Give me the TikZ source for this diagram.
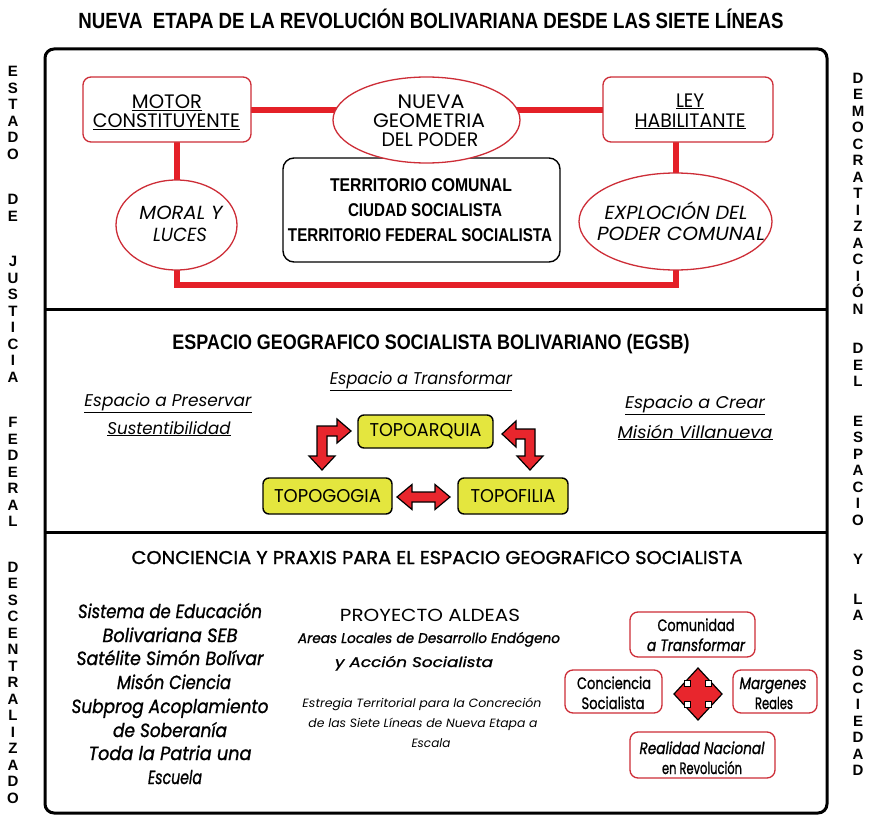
\documentclass[tikz,border=0pt]{standalone}
\usepackage{fontspec}
\usepackage{graphicx}
\setmainfont{Poppins}
\newfontfamily\lib{Liberation Sans}
\newfontfamily\popmed{Poppins}[FakeBold=1.2]
\usetikzlibrary{shapes.geometric}
\pgfdeclarelayer{bg}
\pgfsetlayers{bg,main}
\newcommand\wf[2]{\resizebox{#1pt}{\height}{#2}}
\definecolor{cred}{RGB}{228,32,40}
\definecolor{bred}{RGB}{205,45,55}
\definecolor{cyel}{RGB}{228,230,62}
\definecolor{ared}{RGB}{232,38,45}
\begin{document}
\begin{tikzpicture}[x=1pt,y=-1pt,
  conn/.style={line width=6pt, cred},
  rbox/.style={draw=bred, line width=1.3pt, rounded corners=8pt, fill=white, inner sep=0pt},
  rell/.style={ellipse, draw=bred, line width=1.3pt, fill=white, inner sep=0pt},
  kbox/.style={draw=black, line width=1.4pt, rounded corners=11pt, fill=white, inner sep=0pt},
  ybox/.style={draw=black, line width=1.4pt, fill=cyel, rounded corners=6pt, inner sep=0pt},
  tl/.style={inner sep=0pt, anchor=base},
  frm/.style={line width=3pt, black},
  bigarrow/.style={fill=ared, draw=black, line width=1.2pt, line join=miter},
  ftop/.style={font=\fontsize{19.5}{21}\selectfont},
  fbc/.style={font=\lib\bfseries\fontsize{18.5}{20}\selectfont},
  fit/.style={font=\itshape\fontsize{19}{21}\selectfont},
  mhead/.style={font=\lib\bfseries\fontsize{21}{23}\selectfont},
  mital/.style={font=\itshape\fontsize{17}{19}\selectfont},
  ybt/.style={font=\fontsize{18.5}{20}\selectfont},
  bhead/.style={font=\popmed\fontsize{18.5}{20}\selectfont},
  blist/.style={font=\popmed\itshape\fontsize{19}{21}\selectfont},
  proy/.style={font=\fontsize{17.5}{19}\selectfont},
  areas/.style={font=\popmed\itshape\fontsize{14}{16}\selectfont},
  estr/.style={font=\itshape\fontsize{12}{14}\selectfont},
  bup/.style={font=\popmed\fontsize{16.5}{18}\selectfont},
  bit/.style={font=\popmed\itshape\fontsize{16.5}{18}\selectfont},
  side/.style={font=\lib\bfseries\fontsize{15}{16.5}\selectfont, align=center, inner sep=0pt, anchor=north}
]
\useasboundingbox (0,0) rectangle (873,816);
\begin{pgfonlayer}{bg}
\fill[white] (0,0) rectangle (873,816);
\end{pgfonlayer}

% title
\node[tl, font=\lib\bfseries\fontsize{22}{24}\selectfont] (title) at (431,29) {\wf{705}{NUEVA\ \ ETAPA DE LA REVOLUCIÓN BOLIVARIANA DESDE LAS SIETE LÍNEAS}};

% frame and dividers
\draw[frm, rounded corners=9pt] (45,49) rectangle (827,813);
\draw[frm] (45,309) -- (827,309);
\draw[frm] (45,532) -- (827,532);

% side columns
\node[side] (leftcol) at (13,66) {E\\S\\T\\A\\D\\O\\[29pt]D\\E\\[29pt]J\\U\\S\\T\\I\\C\\I\\A\\[29pt]F\\E\\D\\E\\R\\A\\L\\[29pt]D\\E\\S\\C\\E\\N\\T\\R\\A\\L\\I\\Z\\A\\D\\O};
\node[side] (rightcol) at (858,72.5) {D\\E\\M\\O\\C\\R\\A\\T\\I\\Z\\A\\C\\I\\Ó\\N\\[23pt]D\\E\\L\\[23pt]E\\S\\P\\A\\C\\I\\O\\[23pt]Y\\[23pt]L\\A\\[23pt]S\\O\\C\\I\\E\\D\\A\\D};

% ---------- top panel ----------
\node[kbox, minimum width=277pt, minimum height=104pt] (terr) at (421.5,210) {};
\node[rbox, minimum width=168pt, minimum height=65pt] (motor) at (167,109.5) {};
\node[rbox, minimum width=170pt, minimum height=65pt] (ley) at (688,109.5) {};
\node[rell, minimum width=187pt, minimum height=86pt] (nueva) at (426.5,120) {};
\node[rell, minimum width=121pt, minimum height=90pt] (moral) at (176.5,225) {};
\node[rell, minimum width=193pt, minimum height=97pt] (expl) at (675.5,221.5) {};
\coordinate (botline) at (426,285);

\begin{pgfonlayer}{bg}
\draw[conn] (motor.center) -- (motor.center -| nueva.center);
\draw[conn] (ley.center) -- (ley.center -| nueva.center);
\draw[conn] (moral.center) -- (moral.center |- motor.center);
\draw[conn] (expl.center) -- (expl.center |- ley.center);
\draw[conn] (moral.center) -- (moral.center |- botline) -- (expl.center |- botline) -- (expl.center);
\end{pgfonlayer}

\node[tl, ftop] (t1) at (167,108.5) {\wf{70}{\underline{MOTOR}}};
\node[tl, ftop] (t2) at (166.5,128) {\wf{147}{\underline{CONSTITUYENTE}}};
\node[tl, ftop] (t3) at (431,108) {\wf{67}{NUEVA}};
\node[tl, ftop] (t4) at (429,127) {\wf{112}{GEOMETRIA}};
\node[tl, ftop] (t5) at (430,146) {\wf{97}{DEL PODER}};
\node[tl, ftop] (t6) at (690,107) {\wf{28}{\underline{LEY}}};
\node[tl, ftop] (t7) at (690,127) {\wf{111}{\underline{HABILITANTE}}};
\node[tl, fbc] (t8) at (421,191) {\wf{182}{TERRITORIO COMUNAL}};
\node[tl, fbc] (t9) at (425,216) {\wf{154}{CIUDAD SOCIALISTA}};
\node[tl, fbc] (t10) at (420,241) {\wf{264}{TERRITORIO FEDERAL SOCIALISTA}};
\node[tl, fit] (t11) at (181,219) {\wf{83}{MORAL Y}};
\node[tl, fit] (t12) at (180,241) {\wf{54}{LUCES}};
\node[tl, fit] (t13) at (676,219) {\wf{143}{EXPLOCIÓN DEL}};
\node[tl, fit] (t14) at (681,240) {\wf{168}{PODER COMUNAL}};

% ---------- middle panel ----------
\node[tl, mhead] (m1) at (431,349) {\wf{517}{ESPACIO GEOGRAFICO SOCIALISTA BOLIVARIANO (EGSB)}};
\node[tl, mital] (m2) at (421,384) {\wf{182}{\underline{Espacio a Transformar}}};
\node[tl, mital] (m3) at (168,406) {\wf{167}{\underline{Espacio a Preservar}}};
\node[tl, mital] (m4) at (169,434) {\wf{123}{\underline{Sustentibilidad}}};
\node[tl, mital] (m5) at (695,408) {\wf{140}{\underline{Espacio a Crear}}};
\node[tl, mital] (m6) at (695,438) {\wf{155}{\underline{Misión Villanueva}}};

\node[ybox, ybt, minimum width=135pt, minimum height=33pt] (arq) at (425.5,431.5) {\wf{112}{TOPOARQUIA}};
\node[ybox, ybt, minimum width=129pt, minimum height=36pt] (gog) at (327.5,496) {\wf{107}{TOPOGOGIA}};
\node[ybox, ybt, minimum width=110pt, minimum height=36pt] (fil) at (513,496) {\wf{85}{TOPOFILIA}};

\filldraw[bigarrow] (317,426) -- (337,426) -- (337,419) -- (351,431) -- (337,443) -- (337,436) -- (327,436) -- (327,456) -- (335,456) -- (322,470) -- (309,456) -- (317,456) -- cycle;
\filldraw[bigarrow] (535,429) -- (535,456) -- (543,456) -- (530,470) -- (517,456) -- (525,456) -- (525,439) -- (516,439) -- (516,447) -- (502,434) -- (516,421) -- (516,429) -- cycle;
\filldraw[bigarrow] (397,497) -- (412,484.5) -- (412,492) -- (435,492) -- (435,484.5) -- (450,497) -- (435,509.5) -- (435,502) -- (412,502) -- (412,509.5) -- cycle;

% ---------- bottom panel ----------
\node[tl, bhead] (b1) at (437,564) {\wf{611}{CONCIENCIA Y PRAXIS PARA EL ESPACIO GEOGRAFICO SOCIALISTA}};
\node[tl, blist] (l1) at (170,618) {\wf{184}{Sistema de Educación}};
\node[tl, blist] (l2) at (170,642) {\wf{135}{Bolivariana SEB}};
\node[tl, blist] (l3) at (170,665) {\wf{187}{Satélite Simón Bolívar}};
\node[tl, blist] (l4) at (174,689) {\wf{114}{Misón Ciencia}};
\node[tl, blist] (l5) at (170,713) {\wf{197}{Subprog Acoplamiento}};
\node[tl, blist] (l6) at (170,737) {\wf{114}{de Soberanía}};
\node[tl, blist] (l7) at (170,760) {\wf{163}{Toda la Patria una}};
\node[tl, blist] (l8) at (175,784) {\wf{54}{Escuela}};

\node[tl, proy] (p1) at (430,621) {\wf{180}{PROYECTO ALDEAS}};
\node[tl, areas] (p2) at (429,643) {\wf{262}{Areas Locales de Desarrollo Endógeno}};
\node[tl, areas] (p3) at (414,667) {\wf{158}{y Acción Socialista}};
\node[tl, estr] (p4) at (422,707) {\wf{239}{Estregia Territorial para la Concreción}};
\node[tl, estr] (p5) at (423,727) {\wf{229}{de las Siete Líneas de Nueva Etapa a}};
\node[tl, estr] (p6) at (431,747) {Escala};

\node[rbox, minimum width=125pt, minimum height=45pt] (comu) at (692.5,634.5) {};
\node[rbox, minimum width=97pt, minimum height=43pt] (conc) at (613.5,691.5) {};
\node[rbox, minimum width=84pt, minimum height=43pt] (marg) at (775,691.5) {};
\node[rbox, minimum width=145pt, minimum height=46pt] (real) at (702.5,755) {};
\node[tl, bup] (c1) at (696,631) {\wf{77}{Comunidad}};
\node[tl, bit] (c2) at (696,651) {\wf{98}{a Transformar}};
\node[tl, bup] (c3) at (614,689) {\wf{74}{Conciencia}};
\node[tl, bup] (c4) at (613,709) {\wf{63}{Socialista}};
\node[tl, bit] (c5) at (773,689) {\wf{67}{Margenes}};
\node[tl, bup] (c6) at (774,709) {\wf{38}{Reales}};
\node[tl, bit] (c7) at (702,754) {\wf{125}{Realidad Nacional}};
\node[tl, bup] (c8) at (702,774) {\wf{80}{en Revolución}};

% cross diamond
\filldraw[bigarrow] (698,668) -- (722,694) -- (698,720) -- (674,694) -- cycle;
\foreach \dx/\dy in {-10.5/-10.5, 10.5/-10.5, -10.5/10.5, 10.5/10.5}
  \filldraw[fill=white, draw=black, line width=1pt] ({698+\dx-3},{694+\dy-3}) rectangle ++(6,6);
\end{tikzpicture}
\end{document}
